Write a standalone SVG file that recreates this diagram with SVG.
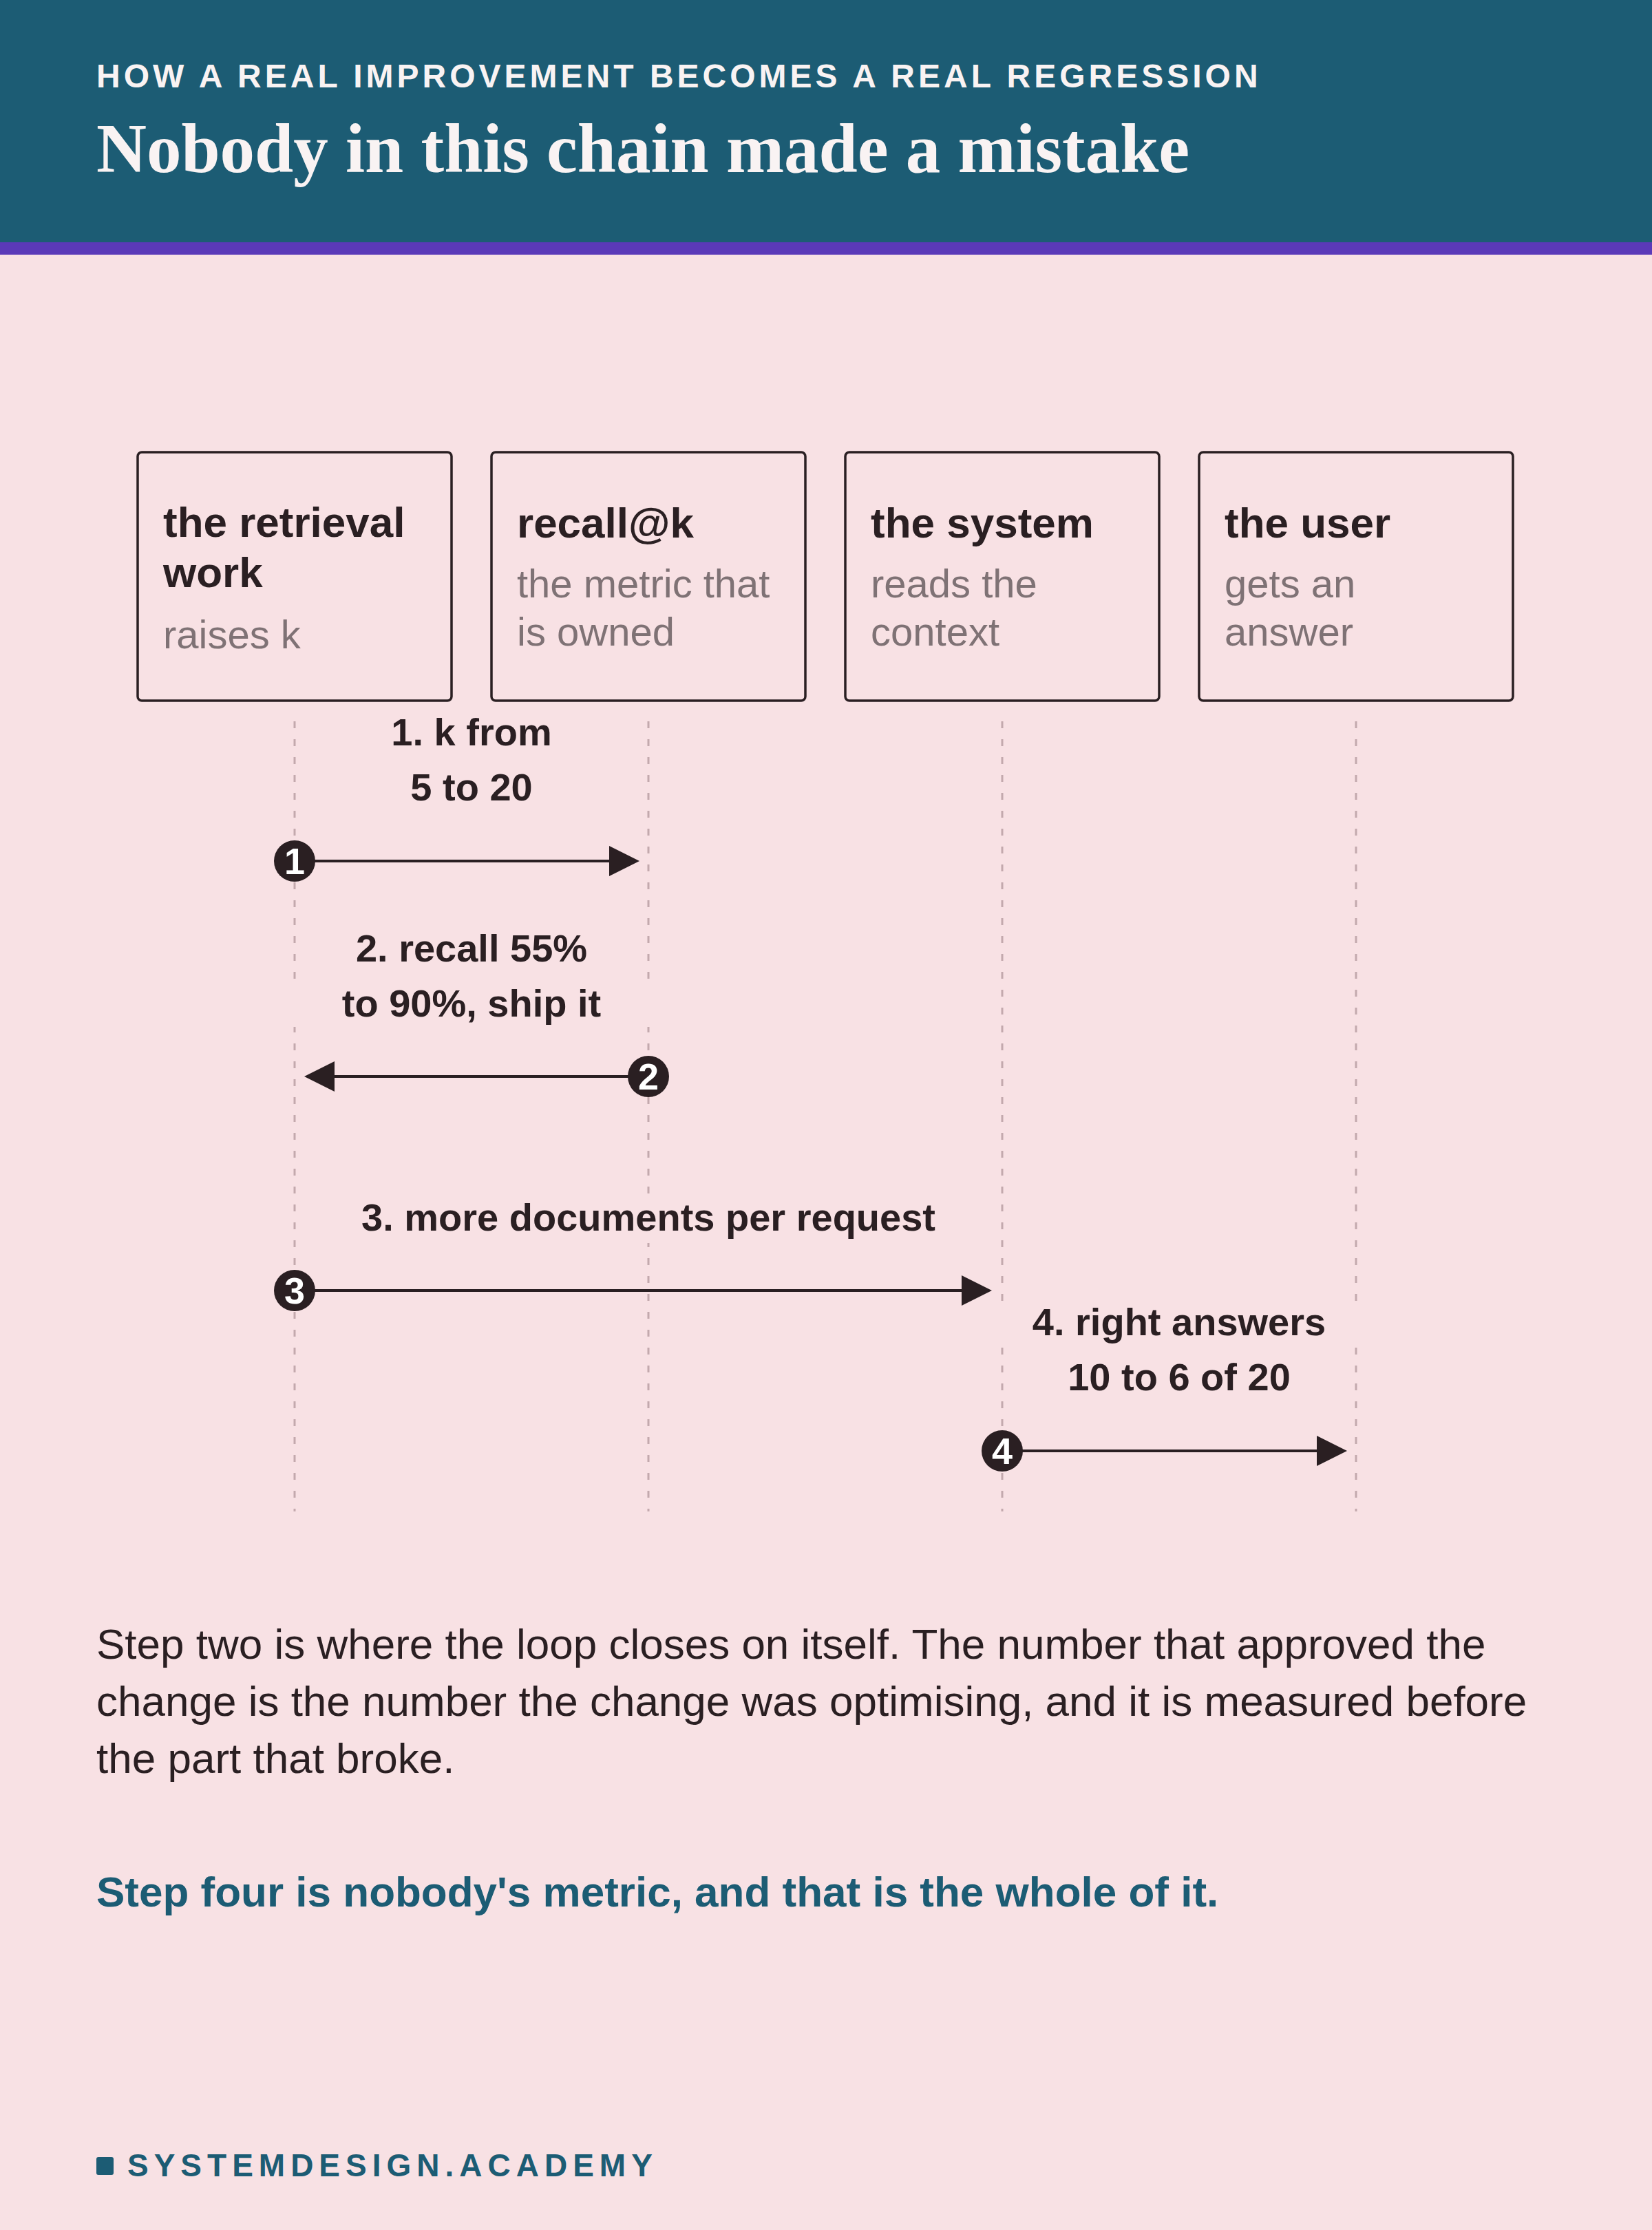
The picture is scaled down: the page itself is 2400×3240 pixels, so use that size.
<svg xmlns="http://www.w3.org/2000/svg" width="2400" height="3240" viewBox="0 0 2400 3240">
<defs>
<style>
.eyebrow{font-family:"Liberation Sans",Arial,sans-serif;font-weight:700;font-size:48px;letter-spacing:5px;fill:#f9f3f3}
.title{font-family:"Liberation Serif","Times New Roman",serif;font-weight:700;font-size:101px;fill:#f9f3f3}
.box{fill:none;stroke:#2a1f22;stroke-width:3.5}
.ntitle{font-family:"Liberation Sans",Arial,sans-serif;font-weight:700;font-size:62px;fill:#2a1f22}
.nsub{font-family:"Liberation Sans",Arial,sans-serif;font-size:58px;fill:#7f7275}
.life{stroke:#c3a9ad;stroke-width:3;stroke-dasharray:10 16;fill:none}
.mask{fill:#f8e1e4}
.arrow{stroke:#2a1f22;stroke-width:4;fill:none;marker-end:url(#head)}
.badge{fill:#2a1f22}
.bnum{font-family:"Liberation Sans",Arial,sans-serif;font-weight:700;font-size:54px;fill:#ffffff;text-anchor:middle}
.lbl{font-family:"Liberation Sans",Arial,sans-serif;font-weight:700;font-size:56px;fill:#2a1f22;text-anchor:middle}
.body{font-family:"Liberation Sans",Arial,sans-serif;font-size:62px;fill:#2a1f22}
.key{font-family:"Liberation Sans",Arial,sans-serif;font-weight:700;font-size:62px;fill:#1c5c74}
.foot{font-family:"Liberation Sans",Arial,sans-serif;font-weight:700;font-size:46px;letter-spacing:8px;fill:#1c5c74}
</style>
<marker id="head" markerUnits="userSpaceOnUse" markerWidth="44" markerHeight="44" refX="14" refY="22" orient="auto">
<path d="M0,0 L44,22 L0,44 Z" fill="#2a1f22"/>
</marker>
</defs>
<rect x="0" y="0" width="2400" height="3240" fill="#f8e1e4"/>
<g id="header">
<rect x="0" y="0" width="2400" height="352" fill="#1c5c74"/>
<rect x="0" y="352" width="2400" height="18" fill="#5b39b8"/>
<text class="eyebrow" x="140" y="127">HOW A REAL IMPROVEMENT BECOMES A REAL REGRESSION</text>
<text class="title" x="140" y="250">Nobody in this chain made a mistake</text>
</g>
<g id="node-retrieval">
<rect class="box" x="200" y="657" width="456" height="361" rx="6"/>
<text class="ntitle" x="237" y="780">the retrieval</text>
<text class="ntitle" x="237" y="853">work</text>
<text class="nsub" x="237" y="942">raises k</text>
</g>
<g id="node-recall">
<rect class="box" x="714" y="657" width="456" height="361" rx="6"/>
<text class="ntitle" x="751" y="781">recall@k</text>
<text class="nsub" x="751" y="868">the metric that</text>
<text class="nsub" x="751" y="938">is owned</text>
</g>
<g id="node-system">
<rect class="box" x="1228" y="657" width="456" height="361" rx="6"/>
<text class="ntitle" x="1265" y="781">the system</text>
<text class="nsub" x="1265" y="868">reads the</text>
<text class="nsub" x="1265" y="938">context</text>
</g>
<g id="node-user">
<rect class="box" x="1742" y="657" width="456" height="361" rx="6"/>
<text class="ntitle" x="1779" y="781">the user</text>
<text class="nsub" x="1779" y="868">gets an</text>
<text class="nsub" x="1779" y="938">answer</text>
</g>
<g id="connectors">
<line class="life" x1="428" y1="1048" x2="428" y2="2196"/>
<line class="life" x1="942" y1="1048" x2="942" y2="2196"/>
<line class="life" x1="1456" y1="1048" x2="1456" y2="2196"/>
<line class="life" x1="1970" y1="1048" x2="1970" y2="2196"/>
<rect class="mask" x="415" y="1424" width="540" height="68"/>
<rect class="mask" x="431" y="1736" width="1022" height="70"/>
<rect class="mask" x="1425" y="1890" width="576" height="68"/>
<line class="arrow" x1="428" y1="1251" x2="899" y2="1251"/>
<line class="arrow" x1="942" y1="1564" x2="472" y2="1564"/>
<line class="arrow" x1="428" y1="1875" x2="1411" y2="1875"/>
<line class="arrow" x1="1456" y1="2108" x2="1927" y2="2108"/>
<circle class="badge" cx="428" cy="1251" r="30"/>
<text class="bnum" x="428" y="1270">1</text>
<circle class="badge" cx="942" cy="1564" r="30"/>
<text class="bnum" x="942" y="1583">2</text>
<circle class="badge" cx="428" cy="1875" r="30"/>
<text class="bnum" x="428" y="1894">3</text>
<circle class="badge" cx="1456" cy="2108" r="30"/>
<text class="bnum" x="1456" y="2127">4</text>
<text class="lbl" x="685" y="1083">1. k from</text>
<text class="lbl" x="685" y="1163">5 to 20</text>
<text class="lbl" x="685" y="1397">2. recall 55%</text>
<text class="lbl" x="685" y="1477">to 90%, ship it</text>
<text class="lbl" x="942" y="1788">3. more documents per request</text>
<text class="lbl" x="1713" y="1940">4. right answers</text>
<text class="lbl" x="1713" y="2020">10 to 6 of 20</text>
</g>
<g id="caption">
<text class="body" x="140" y="2410">Step two is where the loop closes on itself. The number that approved the</text>
<text class="body" x="140" y="2493">change is the number the change was optimising, and it is measured before</text>
<text class="body" x="140" y="2576">the part that broke.</text>
<text class="key" x="140" y="2770">Step four is nobody's metric, and that is the whole of it.</text>
</g>
<g id="footer">
<rect x="140" y="3134" width="25" height="26" rx="3" fill="#1c5c74"/>
<text class="foot" x="185" y="3162">SYSTEMDESIGN.ACADEMY</text>
</g>
</svg>
